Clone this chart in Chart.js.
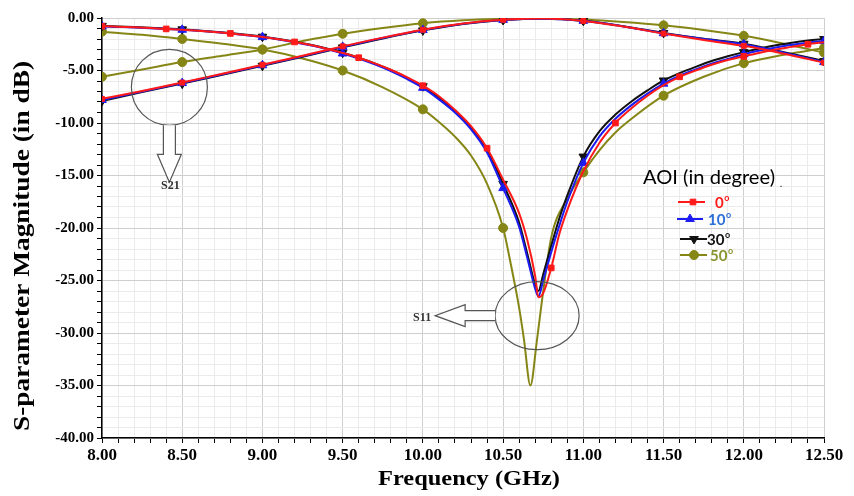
<!DOCTYPE html>
<html>
<head>
<meta charset="utf-8">
<script src="https://cdn.jsdelivr.net/npm/chart.js@4.4.0/dist/chart.umd.min.js"></script>
<style>
  html, body { margin: 0; padding: 0; background: #fff; }
</style>
</head>
<body>
<canvas id="sparam-chart" width="854" height="496"></canvas>
<script>
// S11 curves (reflection), AOI 0 / 10 / 30 degree share one frequency grid
const freqS11 = [8.0, 8.1, 8.2, 8.3, 8.4, 8.5, 8.6, 8.7, 8.8, 8.9,
  9.0, 9.1, 9.2, 9.3, 9.4, 9.5, 9.6, 9.7, 9.8, 9.9,
  10.0, 10.1, 10.2, 10.3, 10.4, 10.5, 10.6, 10.65, 10.7, 10.72,
  10.75, 10.8, 10.85, 10.9, 11.0, 11.1, 11.2, 11.3, 11.4, 11.5,
  11.6, 11.7, 11.8, 11.9, 12.0, 12.1, 12.2, 12.3, 12.4, 12.5];
const s11Aoi0 = [-0.78, -0.83, -0.89, -0.96, -1.04, -1.12, -1.22, -1.34, -1.47, -1.63,
  -1.80, -2.02, -2.28, -2.58, -2.93, -3.33, -3.78, -4.32, -4.93, -5.63,
  -6.45, -7.45, -8.75, -10.3, -12.4, -15.4, -18.6, -21.1, -24.6, -26.6,
  -26.2, -23.8, -20.6, -18.3, -14.6, -11.9, -10.0, -8.6, -7.4, -6.4,
  -5.6, -5.0, -4.45, -4.0, -3.65, -3.3, -3.0, -2.75, -2.5, -2.3];
const s11Aoi10 = [-0.80, -0.85, -0.90, -0.97, -1.04, -1.12, -1.22, -1.34, -1.48, -1.64,
  -1.82, -2.04, -2.30, -2.60, -2.96, -3.38, -3.86, -4.42, -5.06, -5.80,
  -6.65, -7.75, -9.0, -10.6, -12.8, -16.2, -19.9, -22.8, -25.8, -26.5,
  -25.0, -22.3, -19.8, -17.5, -13.8, -11.3, -9.6, -8.3, -7.2, -6.25,
  -5.5, -4.9, -4.35, -3.9, -3.45, -3.1, -2.8, -2.55, -2.35, -2.2];
const s11Aoi30 = [-0.75, -0.80, -0.86, -0.93, -1.00, -1.08, -1.18, -1.30, -1.44, -1.60,
  -1.78, -2.00, -2.25, -2.55, -2.90, -3.30, -3.78, -4.32, -4.95, -5.68,
  -6.50, -7.60, -8.85, -10.45, -12.55, -15.8, -19.5, -22.4, -25.4, -26.0,
  -24.4, -21.7, -19.1, -16.9, -13.2, -10.8, -9.2, -7.95, -6.9, -5.95,
  -5.25, -4.65, -4.1, -3.65, -3.25, -2.9, -2.6, -2.35, -2.15, -2.0];

// AOI 50 has a sharper, deeper notch, so its own grid
const freqS11Aoi50 = [8.0, 8.25, 8.5, 8.75, 9.0, 9.25, 9.5, 9.75, 10.0, 10.1,
  10.2, 10.3, 10.4, 10.5, 10.55, 10.6, 10.63, 10.67, 10.71, 10.75,
  10.8, 10.9, 11.0, 11.1, 11.2, 11.3, 11.5, 11.75, 12.0, 12.25, 12.5];
const s11Aoi50 = [-1.3, -1.6, -2.0, -2.45, -3.0, -3.85, -5.0, -6.6, -8.7, -9.9,
  -11.3, -13.1, -15.8, -20.0, -23.6, -27.6, -30.6, -35.0, -30.8, -26.0,
  -20.9, -17.2, -14.7, -12.6, -10.9, -9.6, -7.4, -5.6, -4.3, -3.5, -2.85];

// S21 curves (transmission)
const freqS21 = [8.0, 8.25, 8.5, 8.75, 9.0, 9.25, 9.5, 9.75, 10.0, 10.25,
  10.5, 10.75, 11.0, 11.25, 11.5, 11.75, 12.0, 12.25, 12.5];
const s21Aoi0 = [-7.7, -6.95, -6.15, -5.3, -4.45, -3.6, -2.7, -1.87, -1.12, -0.53,
  -0.17, -0.05, -0.28, -0.82, -1.48, -2.1, -2.65, -3.4, -4.25];
const s21Aoi10 = [-7.8, -7.0, -6.2, -5.35, -4.5, -3.65, -2.75, -1.9, -1.15, -0.55,
  -0.18, -0.06, -0.27, -0.8, -1.45, -2.0, -2.5, -3.3, -4.2];
const s21Aoi30 = [-7.9, -7.05, -6.25, -5.4, -4.55, -3.7, -2.8, -1.95, -1.18, -0.57,
  -0.19, -0.06, -0.26, -0.78, -1.42, -1.98, -2.45, -3.25, -4.1];
const s21Aoi50 = [-5.6, -4.9, -4.2, -3.6, -3.0, -2.2, -1.5, -0.95, -0.5, -0.22,
  -0.08, -0.04, -0.15, -0.38, -0.7, -1.15, -1.7, -2.45, -3.3];

const aoiLabels = ["0", "10", "30", "50"];

const RED = "#ff1a1a";
const BLUE = "#1c1cf2";
const BLACK = "#111111";
const OLIVE = "#868616";
const SERIF = "'Liberation Serif', 'Times New Roman', serif";

function toPoints(xs, ys) {
  return xs.map((x, i) => ({ x: x, y: ys[i] }));
}

// marker only every `step` GHz starting at 8.0
function onStep(x, step) {
  const k = (x - 8) / step;
  return Math.abs(k - Math.round(k)) < 1e-6;
}

function series(label, xs, ys, color, style, radius, step, rotation) {
  return {
    label: label,
    data: toPoints(xs, ys),
    borderColor: color,
    backgroundColor: color,
    borderWidth: 2,
    cubicInterpolationMode: "monotone",
    pointStyle: style,
    pointRotation: rotation || 0,
    pointBackgroundColor: color,
    pointBorderColor: color,
    pointBorderWidth: 1,
    pointRadius: (c) => (c.raw && onStep(c.raw.x, step) ? radius : 0),
  };
}

function isMajorX(v) {
  return Math.abs(v * 2 - Math.round(v * 2)) < 1e-6;
}
function isMajorY(v) {
  return Math.abs(v / 5 - Math.round(v / 5)) < 1e-6;
}

function stretchText(ctx, text, cx, cy, length, rot) {
  ctx.save();
  ctx.translate(cx, cy);
  ctx.rotate(rot);
  const w = ctx.measureText(text).width;
  ctx.scale(length / w, 1);
  ctx.fillText(text, 0, 0);
  ctx.restore();
}

const extras = {
  id: "extras",
  afterDraw(chart) {
    const ctx = chart.ctx;
    const xs = chart.scales.x;
    const ys = chart.scales.y;
    ctx.save();

    // axis titles
    ctx.fillStyle = "#000";
    ctx.textAlign = "center";
    ctx.textBaseline = "middle";
    ctx.font = "bold 23px " + SERIF;
    stretchText(ctx, "S-parameter Magnitude (in dB)", 23, 246, 370, -Math.PI / 2);
    ctx.font = "bold 22px " + SERIF;
    stretchText(ctx, "Frequency (GHz)", 469, 479, 182, 0);

    // S21 circle + down arrow
    ctx.strokeStyle = "#555";
    ctx.lineWidth = 1.2;
    let cx = xs.getPixelForValue(8.42);
    let cy = ys.getPixelForValue(-6.6);
    const r = 38;
    ctx.beginPath();
    ctx.arc(cx, cy, r, 0, Math.PI * 2);
    ctx.stroke();
    let y0 = cy + r, y1 = y0 + 29, tip = y1 + 28;
    ctx.beginPath();
    ctx.moveTo(cx - 6, y0);
    ctx.lineTo(cx - 6, y1);
    ctx.lineTo(cx - 12, y1);
    ctx.lineTo(cx, tip);
    ctx.lineTo(cx + 12, y1);
    ctx.lineTo(cx + 6, y1);
    ctx.lineTo(cx + 6, y0);
    ctx.fillStyle = "#fff";
    ctx.fill();
    ctx.stroke();
    ctx.fillStyle = "#333";
    ctx.font = "bold 12px " + SERIF;
    ctx.fillText("S21", cx + 1, tip + 4);

    // S11 ellipse + left arrow
    cx = xs.getPixelForValue(10.712);
    cy = ys.getPixelForValue(-28.35);
    const rx = 42, ry = 34;
    ctx.beginPath();
    ctx.ellipse(cx, cy, rx, ry, 0, 0, Math.PI * 2);
    ctx.stroke();
    const x0 = cx - rx, x1 = x0 - 30, tipX = x1 - 30;
    ctx.beginPath();
    ctx.moveTo(x0, cy - 5);
    ctx.lineTo(x1, cy - 5);
    ctx.lineTo(x1, cy - 11);
    ctx.lineTo(tipX, cy);
    ctx.lineTo(x1, cy + 11);
    ctx.lineTo(x1, cy + 5);
    ctx.lineTo(x0, cy + 5);
    ctx.fillStyle = "#fff";
    ctx.fill();
    ctx.stroke();
    ctx.fillStyle = "#333";
    ctx.textAlign = "right";
    ctx.fillText("S11", tipX - 4, cy + 2);

    // legend
    ctx.fillStyle = "#000";
    ctx.textAlign = "center";
    ctx.font = "20px Lato, 'Open Sans', sans-serif";
    stretchText(ctx, "AOI (in degree)", 709, 178, 132, 0);
    ctx.font = "9px Lato, sans-serif";
    ctx.fillText(".", 781, 184);

    const items = [
      { color: RED, text: RED, style: "rect", r: 4, rot: 0, x1: 678, x2: 705, mx: 693, y: 202, lx: 715 },
      { color: BLUE, text: "#2c6fd8", style: "triangle", r: 5, rot: 0, x1: 677, x2: 703, mx: 690, y: 219, lx: 708 },
      { color: BLACK, text: BLACK, style: "triangle", r: 5, rot: 180, x1: 680, x2: 707, mx: 694, y: 239, lx: 707 },
      { color: OLIVE, text: "#8a9632", style: "circle", r: 4.5, rot: 0, x1: 680, x2: 707, mx: 694, y: 255, lx: 710 },
    ];
    items.forEach((it, i) => {
      ctx.strokeStyle = it.color;
      ctx.fillStyle = it.color;
      ctx.lineWidth = 2;
      ctx.beginPath();
      ctx.moveTo(it.x1, it.y);
      ctx.lineTo(it.x2, it.y);
      ctx.stroke();
      ctx.lineWidth = 1;
      Chart.helpers.drawPoint(ctx, { pointStyle: it.style, rotation: it.rot, radius: it.r, borderWidth: 1 }, it.mx, it.y);
      ctx.fillStyle = it.text;
      ctx.textAlign = "left";
      ctx.font = "bold 15px Lato, 'Open Sans', sans-serif";
      ctx.fillText(aoiLabels[i], it.lx, it.y + 1);
      const w = ctx.measureText(aoiLabels[i]).width;
      ctx.font = "bold 9px Lato, 'Open Sans', sans-serif";
      ctx.fillText("o", it.lx + w + 0.5, it.y - 4);
    });

    ctx.restore();
  },
};

new Chart(document.getElementById("sparam-chart"), {
  type: "line",
  data: {
    datasets: [
      series("0 S11", freqS11, s11Aoi0, RED, "rect", 4, 0.4),
      series("0 S21", freqS21, s21Aoi0, RED, "rect", 3.5, 0.5),
      series("10 S11", freqS11, s11Aoi10, BLUE, "triangle", 5, 0.5),
      series("10 S21", freqS21, s21Aoi10, BLUE, "triangle", 5, 0.5),
      series("30 S11", freqS11, s11Aoi30, BLACK, "triangle", 5, 0.5, 180),
      series("30 S21", freqS21, s21Aoi30, BLACK, "triangle", 5, 0.5, 180),
      series("50 S11", freqS11Aoi50, s11Aoi50, OLIVE, "circle", 4.5, 0.5),
      series("50 S21", freqS21, s21Aoi50, OLIVE, "circle", 4.5, 0.5),
    ],
  },
  options: {
    responsive: false,
    animation: false,
    events: [],
    layout: { padding: { top: 18, right: 30, left: 0, bottom: 0 } },
    plugins: {
      legend: { display: false },
      tooltip: { enabled: false },
    },
    scales: {
      x: {
        type: "linear",
        min: 8,
        max: 12.5,
        afterFit(s) { s.height = 58; },
        ticks: {
          stepSize: 0.1,
          maxTicksLimit: 100,
          autoSkip: false,
          maxRotation: 0,
          padding: 2,
          color: "#000",
          font: { family: SERIF, size: 17, weight: "bold" },
          callback: (v) => (isMajorX(v) ? v.toFixed(2) : ""),
        },
        grid: {
          color: (c) => (c.tick && isMajorX(c.tick.value) ? "#cfcfcf" : "#ebebeb"),
          lineWidth: 1,
          tickLength: 5,
          tickColor: "#000",
        },
        border: { color: "#000", width: 1.5 },
      },
      y: {
        min: -40,
        max: 0,
        afterFit(s) { s.width = 102; },
        ticks: {
          stepSize: 1,
          maxTicksLimit: 100,
          autoSkip: false,
          padding: 3,
          color: "#000",
          font: { family: SERIF, size: 15, weight: "bold" },
          callback: (v) => (isMajorY(v) ? v.toFixed(2) : ""),
        },
        grid: {
          color: (c) => (c.tick && isMajorY(c.tick.value) ? "#cfcfcf" : "#ebebeb"),
          lineWidth: 1,
          tickLength: 5,
          tickColor: "#000",
        },
        border: { color: "#000", width: 1.5 },
      },
    },
  },
  plugins: [extras],
});
</script>
</body>
</html>
